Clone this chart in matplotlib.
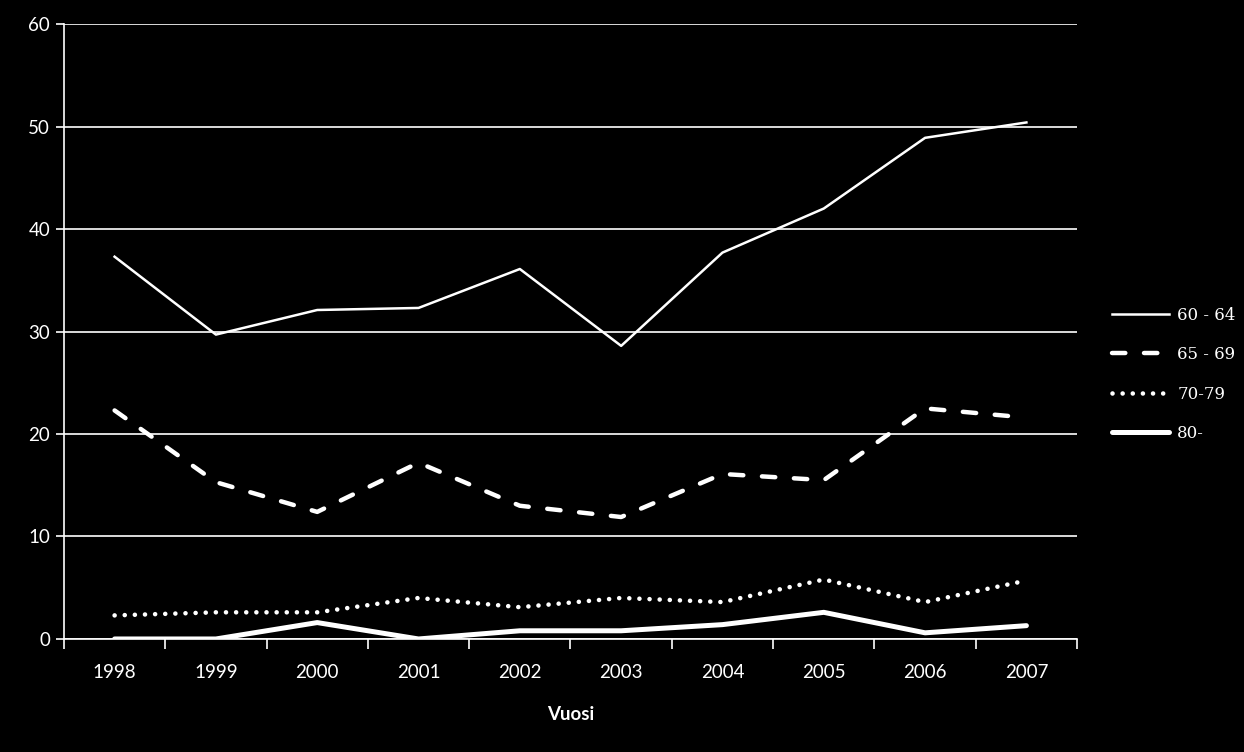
import numpy as np
import matplotlib.pyplot as plt

years = ["1998", "1999", "2000", "2001", "2002", "2003", "2004", "2005", "2006", "2007"]
age_60_64 = [37.3, 29.7, 32.1, 32.3, 36.1, 28.6, 37.7, 42.0, 48.9, 50.4]
age_65_69 = [22.3, 15.3, 12.4, 17.2, 13.0, 11.9, 16.1, 15.5, 22.5, 21.6]
age_70_79 = [2.3, 2.6, 2.6, 4.0, 3.1, 4.0, 3.6, 5.8, 3.6, 5.7]
age_80 = [0.0, 0.0, 1.6, 0.0, 0.8, 0.8, 1.4, 2.6, 0.6, 1.3]
labels = ["60 - 64", "65 - 69", "70-79", "80-"]

plt.rcParams["font.family"] = ["Lato", "DejaVu Sans"]

fig = plt.figure(figsize=(12.44, 7.52), dpi=100, facecolor="black")
ax = fig.add_axes([0.0514, 0.1503, 0.8144, 0.8177], facecolor="black")

x = np.arange(len(years))
ax.plot(x, age_60_64, color="white", lw=1.8, label=labels[0])
ax.plot(x, age_65_69, color="white", lw=3.2, dashes=(3.0, 4.2),
        dash_capstyle="round", label=labels[1])
ax.plot(x, age_70_79, color="white", lw=3.3, dashes=(0.01, 2.2),
        dash_capstyle="round", label=labels[2])
ax.plot(x, age_80, color="white", lw=3.6, solid_capstyle="round", label=labels[3])

ax.set_xlim(-0.5, len(years) - 0.5)
ax.set_ylim(0, 60)
ax.set_yticks(range(0, 61, 10))
ax.yaxis.grid(True, color="white", lw=1.2)
ax.set_axisbelow(True)

ax.set_xticks(x)
ax.set_xticklabels(years)
ax.set_xticks(np.arange(-0.5, len(years), 1), minor=True)
ax.tick_params(axis="x", which="major", length=0, pad=18, labelsize=13.5, colors="white")
ax.tick_params(axis="x", which="minor", length=7, width=1.2, color="white", direction="out")
ax.tick_params(axis="y", length=6, width=1.2, color="white", labelsize=13.5,
               labelcolor="white", pad=4)

for spine in ["top", "right"]:
    ax.spines[spine].set_visible(False)
for spine in ["left", "bottom"]:
    ax.spines[spine].set_color("white")
    ax.spines[spine].set_linewidth(1.2)

ax.set_xlabel("Vuosi", color="white", fontsize=13.5, fontweight="bold", labelpad=18)

leg = ax.legend(loc="center left", bbox_to_anchor=(1.02, 0.43), frameon=False,
                handlelength=3.4, handletextpad=0.5, labelspacing=1.35,
                prop={"family": ["DejaVu Serif"], "size": 12})
for t in leg.get_texts():
    t.set_color("white")

fig.savefig("out.png", dpi=100, facecolor="black")
